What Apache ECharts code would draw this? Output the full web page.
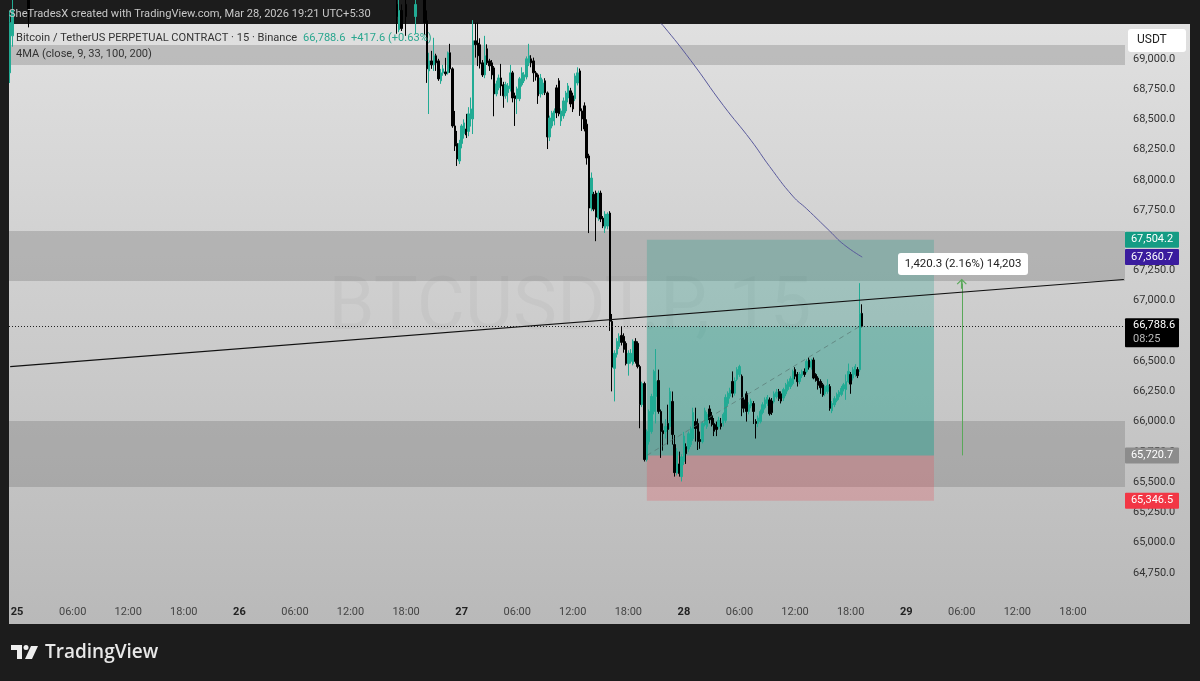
<!DOCTYPE html>
<html>
<head>
<meta charset="utf-8">
<title>BTCUSDT.P 15</title>
<style>
  html, body { margin: 0; padding: 0; background: #1c1c1c; }
  #main { width: 1200px; height: 681px; }
</style>
<script src="https://cdn.jsdelivr.net/npm/echarts@6/dist/echarts.min.js"></script>
</head>
<body>
<div id="main"></div>
<script>
// time axis: one label every 24 bars (6 hours of 15 minute bars)
var barCount = 482;
var firstTickBar = 3;
var tickLabels = ['25', '06:00', '12:00', '18:00', '26', '06:00', '12:00', '18:00', '27', '06:00', '12:00', '18:00',
  '28', '06:00', '12:00', '18:00', '29', '06:00', '12:00', '18:00'];
var dayLabels = ['25', '26', '27', '28', '29'];

// candles: [open, close, low, high]
// bars that are above the top of the chart are left out
var leftBars = [0, 1, 8];
var leftCandles = [
  [68884, 69300, 68800, 69400],
  [69190, 69400, 69100, 69500],
  [69500, 69400, 69260, 69550]
];
var topBars = [167, 168, 169, 171, 175, 179];
var topCandles = [
  [69450, 69350, 69207, 69500],
  [69240, 69400, 69220, 69500],
  [69400, 69250, 69230, 69450],
  [69450, 69350, 69190, 69500],
  [69350, 69450, 69207, 69500],
  [69500, 69300, 69200, 69550]
];
var firstMainBar = 180;
var mainCandles = [
  [69315, 68917, 68801, 69400], [68900, 68983, 68544, 69050], [68983, 68950, 68917, 69066], [68950, 69025, 68900, 69174],
  [69025, 68967, 68900, 69042], [68983, 68834, 68818, 69000], [68818, 68884, 68793, 68917], [68884, 68917, 68860, 68950],
  [68892, 68876, 68860, 69008], [68884, 69050, 68870, 69060], [69050, 68917, 68884, 69124], [68917, 68445, 68430, 68930],
  [68445, 68279, 68238, 68569], [68300, 68172, 68114, 68404], [68155, 68300, 68130, 68330], [68300, 68445, 68260, 68460],
  [68380, 68470, 68340, 68500], [68420, 68370, 68345, 68545], [68400, 68545, 68360, 68600], [68503, 68586, 68440, 68680],
  [68503, 69149, 68378, 69320], [69149, 69116, 69010, 69300], [69130, 69025, 68940, 69300], [69116, 68960, 68920, 69170],
  [68967, 68867, 68850, 68990], [68867, 69025, 68840, 69190], [69083, 68967, 68950, 69120], [68983, 68942, 68900, 69000],
  [68967, 68867, 68830, 68990], [68925, 68710, 68525, 68940], [68710, 68793, 68690, 68820], [68760, 68842, 68740, 68870],
  [68842, 68776, 68694, 68958], [68785, 68694, 68595, 68810], [68694, 68785, 68670, 68810], [68720, 68776, 68640, 68800],
  [68752, 68884, 68730, 68950], [68884, 68676, 68640, 68900], [68694, 68670, 68445, 68720], [68670, 68752, 68544, 68770],
  [68670, 68835, 68650, 68850], [68785, 68884, 68770, 68930], [68818, 68868, 68800, 68890], [68850, 69000, 68830, 69020],
  [68967, 69025, 68940, 69124], [69000, 68967, 68930, 69030], [68983, 68884, 68810, 69010], [68884, 68850, 68820, 68900],
  [68867, 68694, 68627, 68880], [68710, 68842, 68680, 68875], [68718, 68800, 68700, 68830], [68818, 68720, 68700, 68840],
  [68718, 68354, 68254, 68730], [68354, 68511, 68320, 68530], [68445, 68553, 68425, 68570], [68486, 68569, 68450, 68590],
  [68760, 68553, 68510, 68785], [68818, 68545, 68525, 68840], [68486, 68569, 68445, 68590], [68528, 68652, 68505, 68680],
  [68569, 68718, 68550, 68735], [68676, 68776, 68640, 68800], [68735, 68627, 68600, 68760], [68694, 68586, 68560, 68720],
  [68670, 68859, 68650, 68880], [68800, 68884, 68780, 68930], [68900, 68569, 68528, 68920], [68569, 68503, 68404, 68590],
  [68611, 68420, 68400, 68640], [68460, 68180, 68125, 68500], [68197, 67766, 67559, 68215], [67766, 68014, 67740, 68060],
  [67880, 67757, 67740, 67900], [67890, 67691, 67492, 67910], [67683, 67890, 67660, 67910], [67890, 67675, 67650, 67910],
  [67683, 67617, 67600, 67700], [67600, 67716, 67560, 67740], [67617, 67716, 67590, 67730], [67725, 66829, 66750, 67740],
  [66829, 66450, 66250, 66890], [66440, 66565, 66167, 66590], [66557, 66664, 66530, 66690], [66622, 66705, 66600, 66730],
  [66713, 66655, 66630, 66790], [66705, 66597, 66570, 66730], [66647, 66480, 66465, 66664], [66480, 66565, 66380, 66590],
  [66498, 66565, 66480, 66600], [66480, 66664, 66465, 66680], [66664, 66498, 66480, 66690], [66647, 66455, 66440, 66664],
  [66455, 66140, 65945, 66470], [66140, 66315, 66120, 66330], [66315, 65686, 65670, 66330], [65686, 65918, 65670, 65935],
  [65835, 66084, 65810, 66100], [65918, 66208, 65900, 66230], [66084, 66415, 66060, 66430], [66208, 66332, 65985, 66600],
  [66340, 66084, 66065, 66430], [66084, 65918, 65700, 66100], [65925, 65900, 65760, 65985], [65918, 65960, 65860, 66020],
  [65985, 65935, 65810, 66140], [65960, 66249, 65940, 66280], [66167, 65893, 65810, 66249], [65810, 65578, 65545, 65890],
  [65575, 65752, 65555, 65780], [65650, 65570, 65545, 65752], [65545, 65710, 65505, 65730], [65670, 65880, 65640, 65915],
  [65793, 65735, 65650, 65820], [65773, 65900, 65750, 65918], [65810, 65940, 65790, 65960], [65860, 66075, 65840, 66115],
  [66001, 65943, 65835, 66115], [65985, 65835, 65765, 66025], [65852, 65835, 65775, 65918], [65835, 65985, 65820, 66001],
  [65975, 66090, 65960, 66115], [65960, 66060, 65940, 66080], [66105, 66015, 65985, 66135], [66050, 65975, 65960, 66080],
  [65985, 65920, 65880, 66030], [65975, 65935, 65880, 66000], [65960, 66010, 65940, 66040], [65985, 65960, 65935, 66030],
  [65985, 66060, 65960, 66075], [66010, 66200, 65990, 66225], [66150, 66235, 66130, 66250], [66210, 66260, 66190, 66280],
  [66332, 66235, 66200, 66415], [66235, 66340, 66215, 66365], [66350, 66430, 66335, 66450], [66390, 66455, 66370, 66470],
  [66375, 66110, 66045, 66390], [66180, 66110, 66075, 66200], [66230, 66084, 66000, 66250], [66084, 66140, 66060, 66160],
  [66130, 66170, 66110, 66190], [66150, 66084, 65980, 66170], [66001, 65985, 65860, 66020], [65985, 66030, 65955, 66050],
  [66000, 66084, 65985, 66100], [66075, 66140, 66060, 66160], [66115, 66180, 66100, 66200], [66150, 66200, 66130, 66220],
  [66180, 66065, 66050, 66200], [66170, 66075, 66055, 66195], [66165, 66230, 66150, 66250], [66205, 66245, 66190, 66270],
  [66249, 66190, 66170, 66270], [66230, 66170, 66150, 66250], [66195, 66265, 66170, 66280], [66230, 66305, 66210, 66320],
  [66265, 66330, 66250, 66350], [66290, 66355, 66270, 66375], [66315, 66415, 66300, 66430], [66430, 66375, 66350, 66450],
  [66390, 66330, 66290, 66410], [66332, 66390, 66310, 66410], [66380, 66415, 66360, 66430], [66415, 66390, 66370, 66440],
  [66415, 66498, 66400, 66515], [66510, 66450, 66430, 66530], [66450, 66498, 66430, 66520], [66510, 66360, 66350, 66530],
  [66390, 66340, 66330, 66400], [66360, 66300, 66265, 66375], [66332, 66280, 66230, 66350], [66305, 66220, 66205, 66320],
  [66230, 66290, 66210, 66300], [66250, 66300, 66230, 66350], [66290, 66110, 66090, 66310], [66090, 66150, 66070, 66170],
  [66140, 66190, 66120, 66210], [66175, 66225, 66160, 66240], [66205, 66245, 66180, 66260], [66225, 66275, 66210, 66295],
  [66270, 66305, 66250, 66320], [66265, 66330, 66180, 66390], [66330, 66415, 66320, 66480], [66390, 66310, 66230, 66410],
  [66360, 66430, 66340, 66450], [66390, 66455, 66370, 66475], [66430, 66380, 66360, 66450], [66430, 66895, 66410, 67145],
  [66895, 66789, 66780, 66970]
];

// 4MA line, only the one average that shows
var maBars = [280, 282, 294, 308, 320, 328, 338, 344, 354, 360, 368];
var maValues = [69310, 69275, 68985, 68615, 68325, 68110, 67865, 67760, 67575, 67465, 67360.7];

// drawings
var zones = [[69114, 68949], [67576, 67163], [66005, 65459]];
var trendBars = [0, 481];
var trendValues = [66455, 67175];
var lastPrice = 66788.6;
var targetPrice = 67504.2;
var entryPrice = 65720.7;
var stopPrice = 65346.5;
var maLast = 67360.7;
var positionBars = [275, 399];
var tradeEndBar = 367;
var measureBar = 411;
var measureTop = 67141;

var upColor = '#22ab94';
var downColor = '#000000';

var categories = [];
var candleData = [];
for (var i = 0; i < barCount; i++) {
  categories.push(String(i));
  candleData.push('-');
}
leftBars.forEach(function (b, k) { candleData[b] = leftCandles[k]; });
topBars.forEach(function (b, k) { candleData[b] = topCandles[k]; });
mainCandles.forEach(function (c, k) { candleData[firstMainBar + k] = c; });

var tickByBar = {};
tickLabels.forEach(function (t, k) { tickByBar[firstTickBar + k * 24] = t; });

var myChart = echarts.init(document.getElementById('main'));

function priceText(v) {
  return v.toLocaleString('en-US', { minimumFractionDigits: 1, maximumFractionDigits: 1 });
}

var option = {
  backgroundColor: '#1c1c1c',
  animation: false,
  textStyle: { fontFamily: 'Roboto' },
  grid: { left: 9, right: 75, top: 24, height: 579 },
  xAxis: {
    type: 'category',
    data: categories,
    boundaryGap: true,
    axisLine: { show: false },
    axisTick: { show: false },
    splitLine: { show: false },
    axisLabel: {
      margin: 4,
      hideOverlap: false,
      interval: function (index) { return tickByBar[index] !== undefined; },
      formatter: function (value, index) {
        var t = tickByBar[index];
        if (t === undefined) return '';
        return dayLabels.indexOf(t) >= 0 ? '{day|' + t + '}' : '{time|' + t + '}';
      },
      rich: {
        day: { fontFamily: 'Roboto', fontSize: 11, fontWeight: 'bold', color: '#222' },
        time: { fontFamily: 'Roboto', fontSize: 11, color: '#444' }
      }
    }
  },
  yAxis: {
    type: 'value',
    position: 'right',
    min: 64500,
    max: 69288,
    interval: 250,
    axisLine: { show: false },
    axisTick: { show: false },
    splitLine: { show: false },
    axisLabel: {
      margin: 8,
      fontFamily: 'Roboto',
      fontSize: 11,
      color: '#333',
      formatter: function (v) {
        if (v < 64750 || v > 69000) return '';
        return priceText(v);
      }
    }
  },
  series: [
    {
      // grey zones, position box (stronger from entry up to the last price)
      name: 'zones',
      type: 'line',
      data: [],
      z: 1,
      markArea: {
        silent: true,
        data: zones.map(function (z) {
          return [{ yAxis: z[0], itemStyle: { color: 'rgba(110,110,110,0.3)' } }, { yAxis: z[1] }];
        }).concat([
          [{ xAxis: positionBars[0], yAxis: targetPrice, itemStyle: { color: 'rgba(34,160,140,0.27)' } },
            { xAxis: positionBars[1], yAxis: entryPrice }],
          [{ xAxis: positionBars[0], yAxis: lastPrice, itemStyle: { color: 'rgba(34,160,140,0.26)' } },
            { xAxis: positionBars[1], yAxis: entryPrice }],
          [{ xAxis: positionBars[0], yAxis: entryPrice, itemStyle: { color: 'rgba(242,54,69,0.22)' } },
            { xAxis: positionBars[1], yAxis: stopPrice }]
        ])
      }
    },
    {
      name: 'BTCUSDT.P',
      type: 'candlestick',
      data: candleData,
      barWidth: 1.9,
      z: 3,
      itemStyle: {
        color: upColor,
        color0: downColor,
        borderColor: upColor,
        borderColor0: downColor,
        borderWidth: 1
      }
    },
    {
      name: '4MA',
      type: 'line',
      data: maBars.map(function (b, k) { return [b, maValues[k]]; }),
      smooth: 0.5,
      showSymbol: false,
      z: 4,
      lineStyle: { color: '#5a5a9c', width: 1 }
    },
    {
      name: 'trend',
      type: 'line',
      data: trendBars.map(function (b, k) { return [b, trendValues[k]]; }),
      showSymbol: false,
      z: 5,
      lineStyle: { color: '#111', width: 1.2 }
    },
    {
      // dotted last price, dashed trade line, green measure arrow
      name: 'marks',
      type: 'line',
      data: [],
      z: 5,
      markLine: {
        silent: true,
        animation: false,
        symbol: 'none',
        label: { show: false },
        data: [
          { yAxis: lastPrice, lineStyle: { color: '#222', type: [1, 2], width: 1 } },
          [{ xAxis: positionBars[0], yAxis: entryPrice, lineStyle: { color: 'rgba(90,120,115,0.7)', type: [5, 4], width: 1 } },
            { xAxis: tradeEndBar, yAxis: lastPrice }],
          [{ xAxis: measureBar, yAxis: entryPrice, symbol: 'none', lineStyle: { color: '#5aa85a', type: 'solid', width: 1 } },
            { xAxis: measureBar, yAxis: measureTop, symbol: 'path://M0 0L6 6L5 7L1 3L1 12L-1 12L-1 3L-5 7L-6 6Z', symbolSize: [10, 10] }]
        ]
      }
    }
  ]
};

myChart.setOption(option);

// tags on the price scale and text over the chart
function tagY(v) { return myChart.convertToPixel({ yAxisIndex: 0 }, v); }

function priceTag(v, color) {
  var y = tagY(v);
  return [
    { type: 'rect', z: 50, shape: { x: 1125, y: y - 8, width: 54, height: 16, r: 1 }, style: { fill: color } },
    { type: 'text', z: 51, style: { x: 1152, y: y, text: priceText(v), fill: '#fff', font: '11px Roboto', align: 'center', verticalAlign: 'middle' } }
  ];
}

function plainText(x, y, text, font, fill, z) {
  return { type: 'text', z: z || 40, style: { x: x, y: y, text: text, font: font, fill: fill, verticalAlign: 'middle' } };
}

var lastY = tagY(lastPrice);
var elements = [
  {
    type: 'rect', z: -10, silent: true,
    shape: { x: 9, y: 24, width: 1181, height: 600 },
    style: {
      fill: new echarts.graphic.LinearGradient(0, 0, 0, 1, [
        { offset: 0, color: '#e0e0e0' },
        { offset: 1, color: '#b9b9b9' }
      ])
    }
  },
  // watermark
  { type: 'text', z: -5, style: { x: 570, y: 310, text: 'BTCUSDT.P, 15', font: '74px Roboto', fill: 'rgba(0,0,0,0.03)', align: 'center', verticalAlign: 'middle' } },
  plainText(9, 14, 'SheTradesX created with TradingView.com, Mar 28, 2026 19:21 UTC+5:30', '11.1px Roboto', '#c8c8c8'),
  plainText(16, 38, 'Bitcoin / TetherUS PERPETUAL CONTRACT · 15 · Binance', '11.1px Roboto', '#333'),
  plainText(303, 38, '66,788.6', '11.1px Roboto', '#2aa78f'),
  plainText(351, 38, '+417.6 (+0.63%)', '11.1px Roboto', '#2aa78f'),
  plainText(16, 54, '4MA (close, 9, 33, 100, 200)', '11.1px Roboto', '#333'),
  // USDT button
  { type: 'rect', z: 50, shape: { x: 1128, y: 29, width: 58, height: 23, r: 3 }, style: { fill: '#fff' } },
  plainText(1137, 40, 'USDT', '12px Roboto', '#222', 51),
  // measure label
  { type: 'rect', z: 50, shape: { x: 898, y: 253, width: 130, height: 22, r: 3 }, style: { fill: '#fff' } },
  { type: 'text', z: 51, style: { x: 963, y: 264, text: '1,420.3 (2.16%) 14,203', font: '11.5px Roboto', fill: '#222', align: 'center', verticalAlign: 'middle' } },
  // last price tag
  { type: 'rect', z: 50, shape: { x: 1125, y: lastY - 8, width: 54, height: 29, r: 1 }, style: { fill: '#000' } },
  plainText(1133, lastY - 1, priceText(lastPrice), '11px Roboto', '#fff', 51),
  plainText(1133, lastY + 13, '08:25', '11px Roboto', '#bbb', 51),
  // logo
  { type: 'polygon', z: 40, shape: { points: [[11, 645], [22, 645], [22, 659], [17, 659], [17, 650], [11, 650]] }, style: { fill: '#eee' } },
  { type: 'circle', z: 40, shape: { cx: 26, cy: 647.5, r: 2.5 }, style: { fill: '#eee' } },
  { type: 'polygon', z: 40, shape: { points: [[31, 646], [38, 646], [32, 659], [25, 659]] }, style: { fill: '#eee' } },
  plainText(45, 653, 'TradingView', '600 19px "Open Sans"', '#e8e8e8')
];
elements = elements
  .concat(priceTag(targetPrice, '#149c84'))
  .concat(priceTag(maLast, '#3a1c9e'))
  .concat(priceTag(entryPrice, '#8c8c8c'))
  .concat(priceTag(stopPrice, '#f23645'));

myChart.setOption({ graphic: { elements: elements } });
</script>
</body>
</html>
